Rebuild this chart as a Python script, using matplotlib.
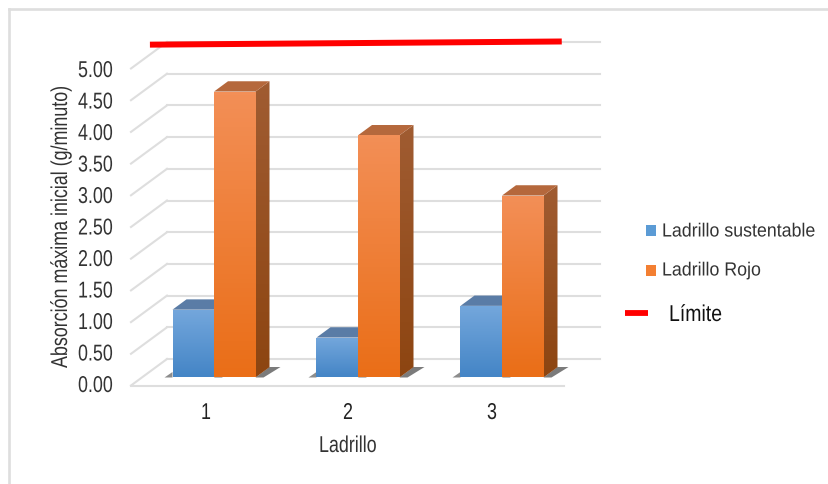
import numpy as np
import matplotlib
matplotlib.use('Agg')
import matplotlib.pyplot as plt
from matplotlib.colors import LinearSegmentedColormap
from matplotlib.patches import Polygon, Rectangle
from matplotlib.patheffects import AbstractPathEffect
from matplotlib.transforms import Affine2D

grupos = [1, 2, 3]
sustentable = [1.07, 0.63, 1.13]
rojo = [4.51, 3.82, 2.87]
limite_x = [0.555, 3.415]
limite_y = [5.25, 5.30]
ticks = [0, 0.5, 1, 1.5, 2, 2.5, 3, 3.5, 4, 4.5, 5]

plt.rcParams['font.family'] = ['Liberation Sans', 'DejaVu Sans']

W, H = 829, 485
# px por unidad en el plano frontal de las barras
sx, sy = 144.0, 63.4
x0_px, y0_px = 214.0, 378.5


def X(p):
    return 1 + (p - x0_px) / sx


def Y(p):
    return (y0_px - p) / sy


class Angosto(AbstractPathEffect):
    # la letra original es condensada, se comprime a lo largo de la linea de texto
    def __init__(self, f):
        super().__init__()
        self.f = f

    def draw_path(self, renderer, gc, tpath, affine, rgbFace=None):
        renderer.draw_path(gc, tpath, Affine2D().scale(self.f, 1) + affine, rgbFace)


def texto(xp, yp, s, f=0.78, size=16.5, color='#333333', **kw):
    ax.text(X(xp), Y(yp), s, ha='left', va='baseline', fontsize=size, color=color,
            rotation_mode='anchor', path_effects=[Angosto(f)], **kw)


fig = plt.figure(figsize=(W / 100, H / 100), dpi=100)
ax = fig.add_axes([0, 0, 1, 1])
ax.axis('off')

gris = '#dedede'
y_frente = Y(386.5)
y_fondo = Y(360)

# rejilla: diagonales de la pared lateral y lineas del fondo
for t in ticks:
    ax.plot([X(131), X(167)], [t + y_frente, t + y_fondo], color=gris, lw=1.5, zorder=1)
    ax.plot([X(167), X(600)], [t + y_fondo, t + y_fondo], color=gris, lw=1.5, zorder=1)
ax.plot([X(131), X(564)], [y_frente, y_frente], color=gris, lw=1.5, zorder=1)

for t in ticks:
    texto(78, 393 - 63 * t, '%.2f' % t)


def barra3d(xc, w, v, arriba, abajo, lado, techo, z):
    dx, dy = 14 / sx, 10.3 / sy
    izq, der = xc, xc + w
    # sombra en el suelo
    ax.add_patch(Polygon([(der, 0), (der + dx, 10.5 / sy), (der + 25 / sx, 10.5 / sy), (der + 8 / sx, 0)],
                         closed=True, fc='#5a5a5a', ec='none', alpha=0.8, zorder=z - 1))
    gr = LinearSegmentedColormap.from_list('g', [arriba, abajo])
    im = ax.imshow(np.linspace(0, 1, 64).reshape(-1, 1), extent=[izq, der, 0, v], origin='upper',
                   cmap=gr, aspect='auto', zorder=z + 0.2)
    im.set_clip_path(Rectangle((izq, 0), w, v, transform=ax.transData))
    gl = LinearSegmentedColormap.from_list('l', lado)
    im2 = ax.imshow(np.linspace(0, 1, 64).reshape(-1, 1), extent=[der, der + dx, 0, v + dy], origin='upper',
                    cmap=gl, aspect='auto', zorder=z)
    im2.set_clip_path(Polygon([(der, 0), (der + dx, dy), (der + dx, v + dy), (der, v)], closed=True,
                              transform=ax.transData))
    ax.add_patch(Polygon([(izq, v), (izq + dx, v + dy), (der + dx, v + dy), (der, v)], closed=True,
                         fc=techo, ec='none', zorder=z))


ancho = 41.5 / sx
for i, g in enumerate(grupos):
    # sombra izquierda
    ax.add_patch(Polygon([(g - ancho, 0), (g - ancho - 8 / sx, 0), (g - ancho, 5.5 / sy)], closed=True,
                         fc='#666666', ec='none', alpha=0.75, zorder=2))
    barra3d(g - ancho, ancho, sustentable[i], '#74a7dc', '#4485c6', ['#4f7aa8', '#3f6f9f'], '#5a7ca6', 3)
    barra3d(g, ancho, rojo[i], '#f38f57', '#ea6e17', ['#a05c32', '#8d4511'], '#b5683c', 5)

ax.plot(limite_x, limite_y, color='#ff0000', lw=4.3, solid_capstyle='butt', zorder=8)

for g, xp in zip(grupos, [201, 343, 487]):
    texto(xp, 420, str(g), color='#222222')
texto(319, 453, 'Ladrillo')
texto(67, 369, 'Absorción máxima inicial (g/minuto)', rotation=90)

# leyenda
for yp, c in [(226, '#5b9bd5'), (265.5, '#f37f32')]:
    ax.add_patch(Rectangle((X(646), Y(yp + 11)), 10.5 / sx, 11 / sy, fc=c, ec='none'))
texto(662, 237.5, 'Ladrillo sustentable', f=0.935, size=13.7)
texto(662, 276.5, 'Ladrillo Rojo', f=0.935, size=13.7)
ax.plot([X(625.5), X(648)], [Y(314), Y(314)], color='#ff0000', lw=4.2, solid_capstyle='butt')
texto(669, 322, 'Límite', f=0.85, color='#111111')

# marco del grafico
ax.plot([X(9), X(9)], [Y(H), Y(10)], color=gris, lw=1.9)
ax.plot([X(9), X(W)], [Y(10), Y(10)], color=gris, lw=1.9)

ax.set_xlim(X(0), X(W))
ax.set_ylim(Y(H), Y(0))
fig.savefig('out.png', dpi=100)
